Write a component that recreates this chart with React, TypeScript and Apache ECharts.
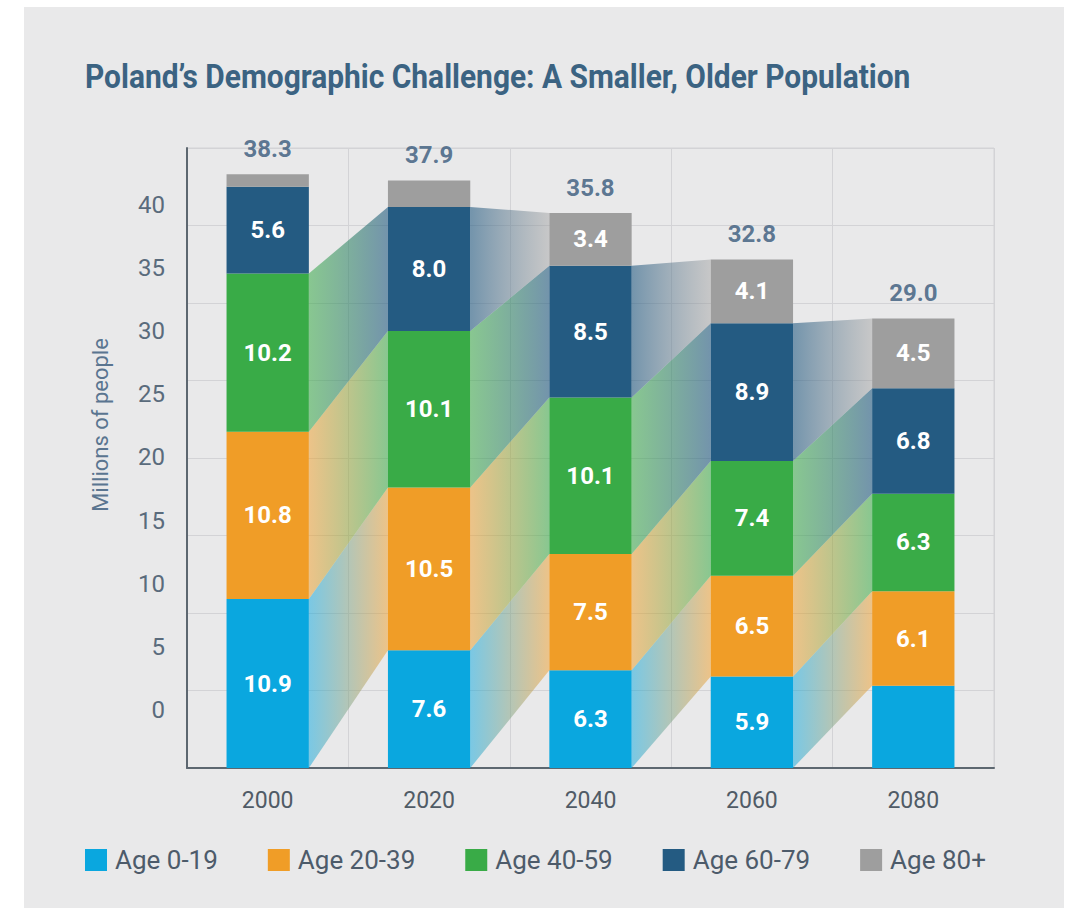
import React, { useEffect, useRef } from "react";
import * as echarts from "echarts";

const years = ["2000", "2020", "2040", "2060", "2080"];
const seriesNames = ["Age 0-19", "Age 20-39", "Age 40-59", "Age 60-79", "Age 80+"];
const age0to19 = [10.9, 7.6, 6.3, 5.9, 5.3];
const age20to39 = [10.8, 10.5, 7.5, 6.5, 6.1];
const age40to59 = [10.2, 10.1, 10.1, 7.4, 6.3];
const age60to79 = [5.6, 8.0, 8.5, 8.9, 6.8];
const age80plus = [0.8, 1.7, 3.4, 4.1, 4.5];
const totals = [38.3, 37.9, 35.8, 32.8, 29.0];
const yTickLabels = [0, 5, 10, 15, 20, 25, 30, 35, 40];
// [seriesIndex, yearIndex] of segments drawn without a value label
const unlabelled = [[4, 0], [4, 1], [0, 4]];
// cohort ribbons: [gapIndex, fromSeries] -> toSeries = fromSeries + 1 in the next year
const ribbons = [
  [0, 0], [0, 1], [0, 2],
  [1, 0], [1, 1], [1, 2], [1, 3],
  [2, 0], [2, 1], [2, 2], [2, 3],
  [3, 0], [3, 1], [3, 2], [3, 3],
];

const colors = ["#0aa7df", "#f09d27", "#39ab47", "#245b82", "#9e9e9e"];
const ribbonColors = [
  "rgba(10,167,223,0.5)",
  "rgba(240,157,39,0.5)",
  "rgba(57,171,71,0.55)",
  "rgba(36,91,130,0.6)",
  "rgba(158,158,158,0.45)",
];

const segments = [age0to19, age20to39, age40to59, age60to79, age80plus];
const BAR_FRAC = 0.51;

export default function App() {
  const ref = useRef<HTMLDivElement>(null);
  useEffect(() => {
    if (!ref.current) return;
    const chart = echarts.init(ref.current, null, { renderer: "svg" });

    const bottomOf = (yr: number, k: number) => {
      let s = 0;
      for (let j = 0; j < k; j++) s += segments[j][yr];
      return s;
    };

    const barSeries = segments.map((arr, k) => ({
      name: seriesNames[k],
      type: "bar",
      stack: "total",
      barWidth: BAR_FRAC * 100 + "%",
      z: 3,
      itemStyle: { color: colors[k] },
      label: {
        show: true,
        position: "inside",
        color: "#ffffff",
        fontSize: 24,
        fontWeight: "bold",
        fontFamily: "Roboto",
        formatter: (p: any) => Number(p.value).toFixed(1),
      },
      data: arr.map((v, yr) => {
        const hide = unlabelled.some(([s, y]) => s === k && y === yr);
        return hide ? { value: v, label: { show: false } } : v;
      }),
    }));

    const ribbonSeries = {
      name: "cohorts",
      type: "custom",
      z: 1,
      silent: true,
      encode: { x: 0, y: 1 },
      data: ribbons.map(([g, k]) => [g, 0, k]),
      renderItem: (params: any, api: any) => {
        const i = api.value(0);
        const k = api.value(2);
        const band = api.size([1, 0])[0];
        const bw = band * BAR_FRAC;
        const cxA = api.coord([i, 0])[0];
        const cxB = api.coord([i + 1, 0])[0];
        const xL = cxA + bw / 2;
        const xR = cxB - bw / 2;
        const a0 = bottomOf(i, k);
        const a1 = a0 + segments[k][i];
        const b0 = bottomOf(i + 1, k + 1);
        const b1 = b0 + segments[k + 1][i + 1];
        const yA0 = api.coord([i, a0])[1];
        const yA1 = api.coord([i, a1])[1];
        const yB0 = api.coord([i + 1, b0])[1];
        const yB1 = api.coord([i + 1, b1])[1];
        return {
          type: "polygon",
          shape: { points: [[xL, yA0], [xL, yA1], [xR, yB1], [xR, yB0]] },
          style: {
            fill: new echarts.graphic.LinearGradient(0, 0, 1, 0, [
              { offset: 0, color: ribbonColors[k] },
              { offset: 1, color: ribbonColors[k + 1] },
            ]),
          },
        };
      },
    };

    const totalSeries = {
      name: "totals",
      type: "scatter",
      symbolSize: 1,
      z: 4,
      silent: true,
      itemStyle: { color: "rgba(0,0,0,0)" },
      label: {
        show: true,
        position: "top",
        distance: 13,
        color: "#36587a",
        fontSize: 24,
        fontWeight: "bold",
        fontFamily: "Roboto",
        formatter: (p: any) => Number(p.value).toFixed(1),
      },
      data: totals,
    };

    chart.setOption({
      animation: false,
      legend: {
        data: seriesNames,
        left: 85,
        top: 847,
        padding: 0,
        icon: "rect",
        itemWidth: 22,
        itemHeight: 22,
        itemGap: 50,
        textStyle: {
          fontFamily: "Roboto",
          fontSize: 26,
          color: "#4d5b6a",
          padding: [0, 0, 0, 3],
        },
      },
      grid: {
        left: 187,
        right: 77,
        top: 148,
        bottom: 142,
        show: true,
        borderColor: "#d3d3d6",
        borderWidth: 1,
        outerBoundsMode: "none",
      },
      xAxis: {
        type: "category",
        data: years,
        boundaryGap: true,
        axisTick: { show: false },
        axisLine: { show: true, lineStyle: { color: "#5d6770", width: 2 } },
        axisLabel: { fontFamily: "Roboto", fontSize: 23, color: "#505b66", margin: 21 },
        splitLine: { show: true, lineStyle: { color: "#d3d3d6", width: 1 } },
      },
      yAxis: [
        {
          type: "value",
          min: 0,
          max: 40,
          interval: 5,
          axisLine: { show: true, lineStyle: { color: "#5d6770", width: 2 } },
          axisTick: { show: false },
          axisLabel: { show: false },
          splitLine: { show: true, lineStyle: { color: "#d3d3d6", width: 1 } },
        },
        {
          type: "value",
          position: "left",
          min: -4.6,
          max: 44.5,
          axisLine: { show: false },
          axisTick: { show: false },
          splitLine: { show: false },
          axisLabel: {
            show: true,
            customValues: yTickLabels,
            fontFamily: "Roboto",
            fontSize: 24,
            color: "#5a6b7c",
            margin: 22,
          },
        },
      ],
      graphic: [
        {
          type: "text",
          x: 85,
          y: 76,
          scaleX: 0.88,
          style: {
            text: "Poland\u2019s Demographic Challenge: A Smaller, Older Population",
            fontFamily: "Roboto",
            fontWeight: "bold",
            fontSize: 34,
            fill: "#3b6382",
            align: "left",
            verticalAlign: "middle",
          },
        },
        {
          type: "text",
          x: 100,
          y: 425,
          rotation: Math.PI / 2,
          style: {
            text: "Millions of people",
            fontFamily: "Roboto",
            fontSize: 22,
            fill: "#5a7590",
            align: "center",
            verticalAlign: "middle",
          },
        },
      ],
      series: [ribbonSeries, ...barSeries, totalSeries],
    });
    return () => chart.dispose();
  }, []);

  return (
    <div style={{ position: "fixed", left: 0, top: 0, width: 1071, height: 910, background: "#ffffff" }}>
      <div style={{ position: "absolute", left: 24, top: 7, width: 1040, height: 901, background: "#e9e9ea" }} />
      <div ref={ref} style={{ position: "absolute", left: 0, top: 0, width: 1071, height: 910 }} />
    </div>
  );
}
